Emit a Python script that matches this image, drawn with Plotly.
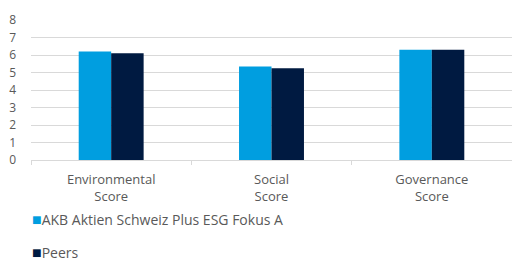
import plotly.graph_objects as go

categories = ["Environmental<br>Score", "Social<br>Score", "Governance<br>Score"]
fund_name = "AKB Aktien Schweiz Plus ESG Fokus A"
peers_name = "Peers"
fund_values = [6.2, 5.35, 6.3]
peers_values = [6.1, 5.25, 6.3]
y_ticks = [0, 1, 2, 3, 4, 5, 6, 7, 8]

BLUE = "#009EE0"
NAVY = "#001A41"
GRAY = "#595959"
GRID = "#D9D9D9"
FONT = "Open Sans"

fig = go.Figure()
fig.add_trace(go.Bar(x=categories, y=fund_values, name=fund_name,
                     marker=dict(color=BLUE, line=dict(width=0)), showlegend=False))
fig.add_trace(go.Bar(x=categories, y=peers_values, name=peers_name,
                     marker=dict(color=NAVY, line=dict(width=0)), showlegend=False))

# legend entries (icon drawn as a coloured square glyph in the label)
for name, color, lg in [(fund_name, BLUE, "legend"), (peers_name, NAVY, "legend2")]:
    fig.add_trace(go.Scatter(
        x=[None], y=[None], mode="markers",
        marker=dict(size=1, opacity=0, color="rgba(0,0,0,0)"),
        name=f'<span style="color:{color};font-size:16px">■</span>{name}',
        showlegend=True, legend=lg))

PLOT_L, PLOT_W = 31, 481
legend_common = dict(
    orientation="v", xref="paper", yref="container",
    xanchor="left", yanchor="middle",
    font=dict(family=FONT, size=14, color=GRAY),
    bgcolor="rgba(0,0,0,0)", borderwidth=0, itemwidth=30,
)
leg_x = (32 - 40 - PLOT_L) / PLOT_W

fig.update_layout(
    width=512, height=260,
    margin=dict(l=PLOT_L, r=0, t=19.5, b=99.5, autoexpand=False),
    paper_bgcolor="white", plot_bgcolor="white",
    barmode="group", bargap=0.595, bargroupgap=0,
    font=dict(family=FONT, size=12, color=GRAY),
    legend=dict(**legend_common, x=leg_x, y=1 - 220 / 260),
    legend2=dict(**legend_common, x=leg_x, y=1 - 253 / 260),
    xaxis=dict(
        showline=True, linecolor=GRID, linewidth=1, automargin=False,
        ticks="outside", tickson="boundaries", ticklen=4, tickcolor=GRID,
        ticklabelstandoff=7,
        showgrid=False, tickfont=dict(family=FONT, size=13, color=GRAY),
        fixedrange=True,
    ),
    yaxis=dict(
        range=[0, 8], tickvals=y_ticks, showgrid=True, gridcolor=GRID,
        gridwidth=1, zeroline=False, showline=False, ticks="", automargin=False,
        ticklabelstandoff=14,
        tickfont=dict(family=FONT, size=12, color=GRAY), fixedrange=True,
    ),
)

fig.write_html("out.html", config={"displayModeBar": False},
               post_script="document.body.style.margin='0';")
